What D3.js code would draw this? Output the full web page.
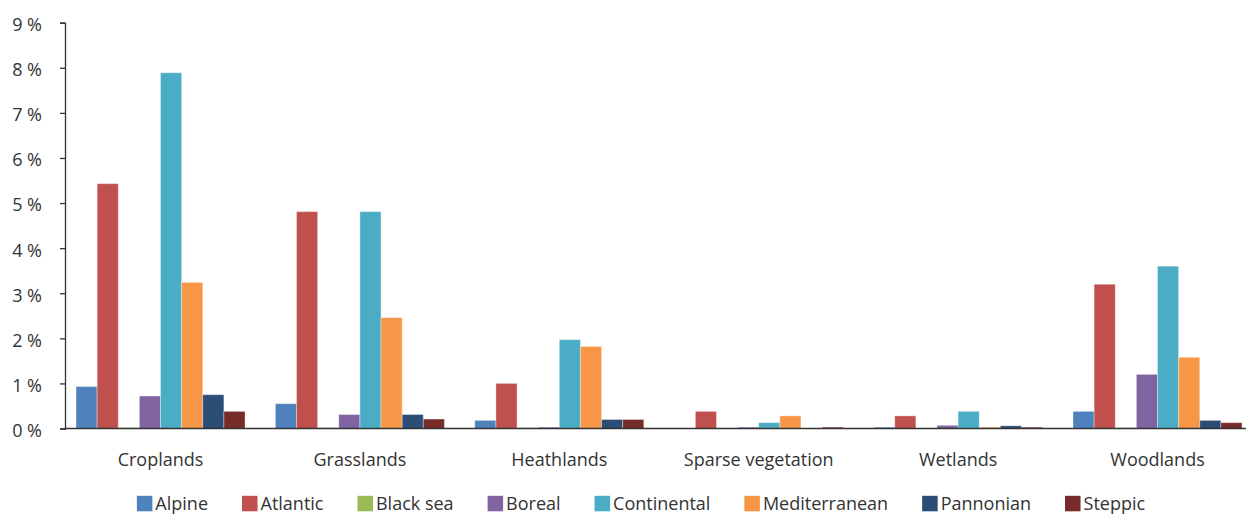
<!DOCTYPE html>
<html><head><meta charset="utf-8">
<script src="https://cdn.jsdelivr.net/npm/d3@7"></script>
<style>body{margin:0;background:#fff;} text{font-family:"Open Sans",sans-serif;fill:#333;}</style>
</head><body>
<svg id="c" width="1246" height="514"></svg>
<script>
const categories = ["Croplands","Grasslands","Heathlands","Sparse vegetation","Wetlands","Woodlands"];
const seriesNames = ["Alpine","Atlantic","Black sea","Boreal","Continental","Mediterranean","Pannonian","Steppic"];
const colors = ["#4f81bd","#c0504d","#9bbb59","#8064a2","#4bacc6","#f79646","#2c4d75","#772c2a"];
const alpine        = [0.93, 0.55, 0.18, 0.00, 0.03, 0.38];
const atlantic      = [5.43, 4.81, 1.00, 0.38, 0.28, 3.20];
const blackSea      = [0.02, 0.02, 0.02, 0.00, 0.00, 0.02];
const boreal        = [0.72, 0.31, 0.03, 0.03, 0.07, 1.20];
const continental   = [7.89, 4.81, 1.97, 0.13, 0.38, 3.60];
const mediterranean = [3.24, 2.46, 1.82, 0.28, 0.03, 1.58];
const pannonian     = [0.75, 0.31, 0.20, 0.00, 0.06, 0.18];
const steppic       = [0.38, 0.21, 0.20, 0.03, 0.03, 0.13];
const yTicks = [0,1,2,3,4,5,6,7,8,9];

const series = [alpine,atlantic,blackSea,boreal,continental,mediterranean,pannonian,steppic];
const svg = d3.select("#c");
const L = 65, R = 1246, T = 22.7, B = 428.5;
const x0 = d3.scaleBand().domain(categories).range([60.8, 1257.2]).paddingInner(0.1525).paddingOuter(0.07625);
const x1 = d3.scaleBand().domain(seriesNames).range([0, x0.bandwidth()]);
const y = d3.scaleLinear().domain([0, 9]).range([B, T]);

// bars
categories.forEach((c, ci) => {
  const g = svg.append("g").attr("transform", `translate(${x0(c)},0)`);
  seriesNames.forEach((s, si) => {
    const v = series[si][ci];
    g.append("rect")
      .attr("x", x1(s)).attr("width", x1.bandwidth())
      .attr("y", y(v)).attr("height", B - y(v))
      .attr("fill", colors[si])
      .attr("stroke", "rgba(255,255,255,0.35)").attr("stroke-width", 1);
  });
});

// y axis
const ya = svg.append("g").attr("transform", `translate(${L},0)`)
  .call(d3.axisLeft(y).tickValues(yTicks).tickSize(5).tickPadding(18).tickFormat(d => d + " %"));
ya.select(".domain").attr("stroke", "#333").attr("stroke-width", 1.3);
ya.selectAll(".tick line").attr("stroke", "#333").attr("stroke-width", 1.3);
ya.selectAll("text").style("font-size", "18px").attr("fill", "#333").attr("dy", "0.44em");

// x axis
const xa = svg.append("g").attr("transform", `translate(0,${B})`)
  .call(d3.axisBottom(x0).tickSize(0).tickPadding(24.5));
xa.select(".domain").attr("stroke", "#333").attr("stroke-width", 1.5).attr("d", `M${L},0H${R}`);
xa.selectAll("text").style("font-size", "18px").attr("fill", "#333");

// legend
const lg = svg.append("g");
let cx = 0;
const gap = 34;
seriesNames.forEach((s, i) => {
  const it = lg.append("g");
  it.append("rect").attr("x", 0).attr("y", -14).attr("width", 15.5).attr("height", 15.5).attr("fill", colors[i]);
  const t = it.append("text").attr("x", 18.5).attr("y", 0).style("font-size", "18px").text(s);
  const w = t.node().getComputedTextLength();
  it.attr("transform", `translate(${cx},0)`);
  cx += 18.5 + w + gap;
});
const total = cx - gap;
lg.attr("transform", `translate(${641 - total / 2},509.8)`);
</script>
</body></html>
